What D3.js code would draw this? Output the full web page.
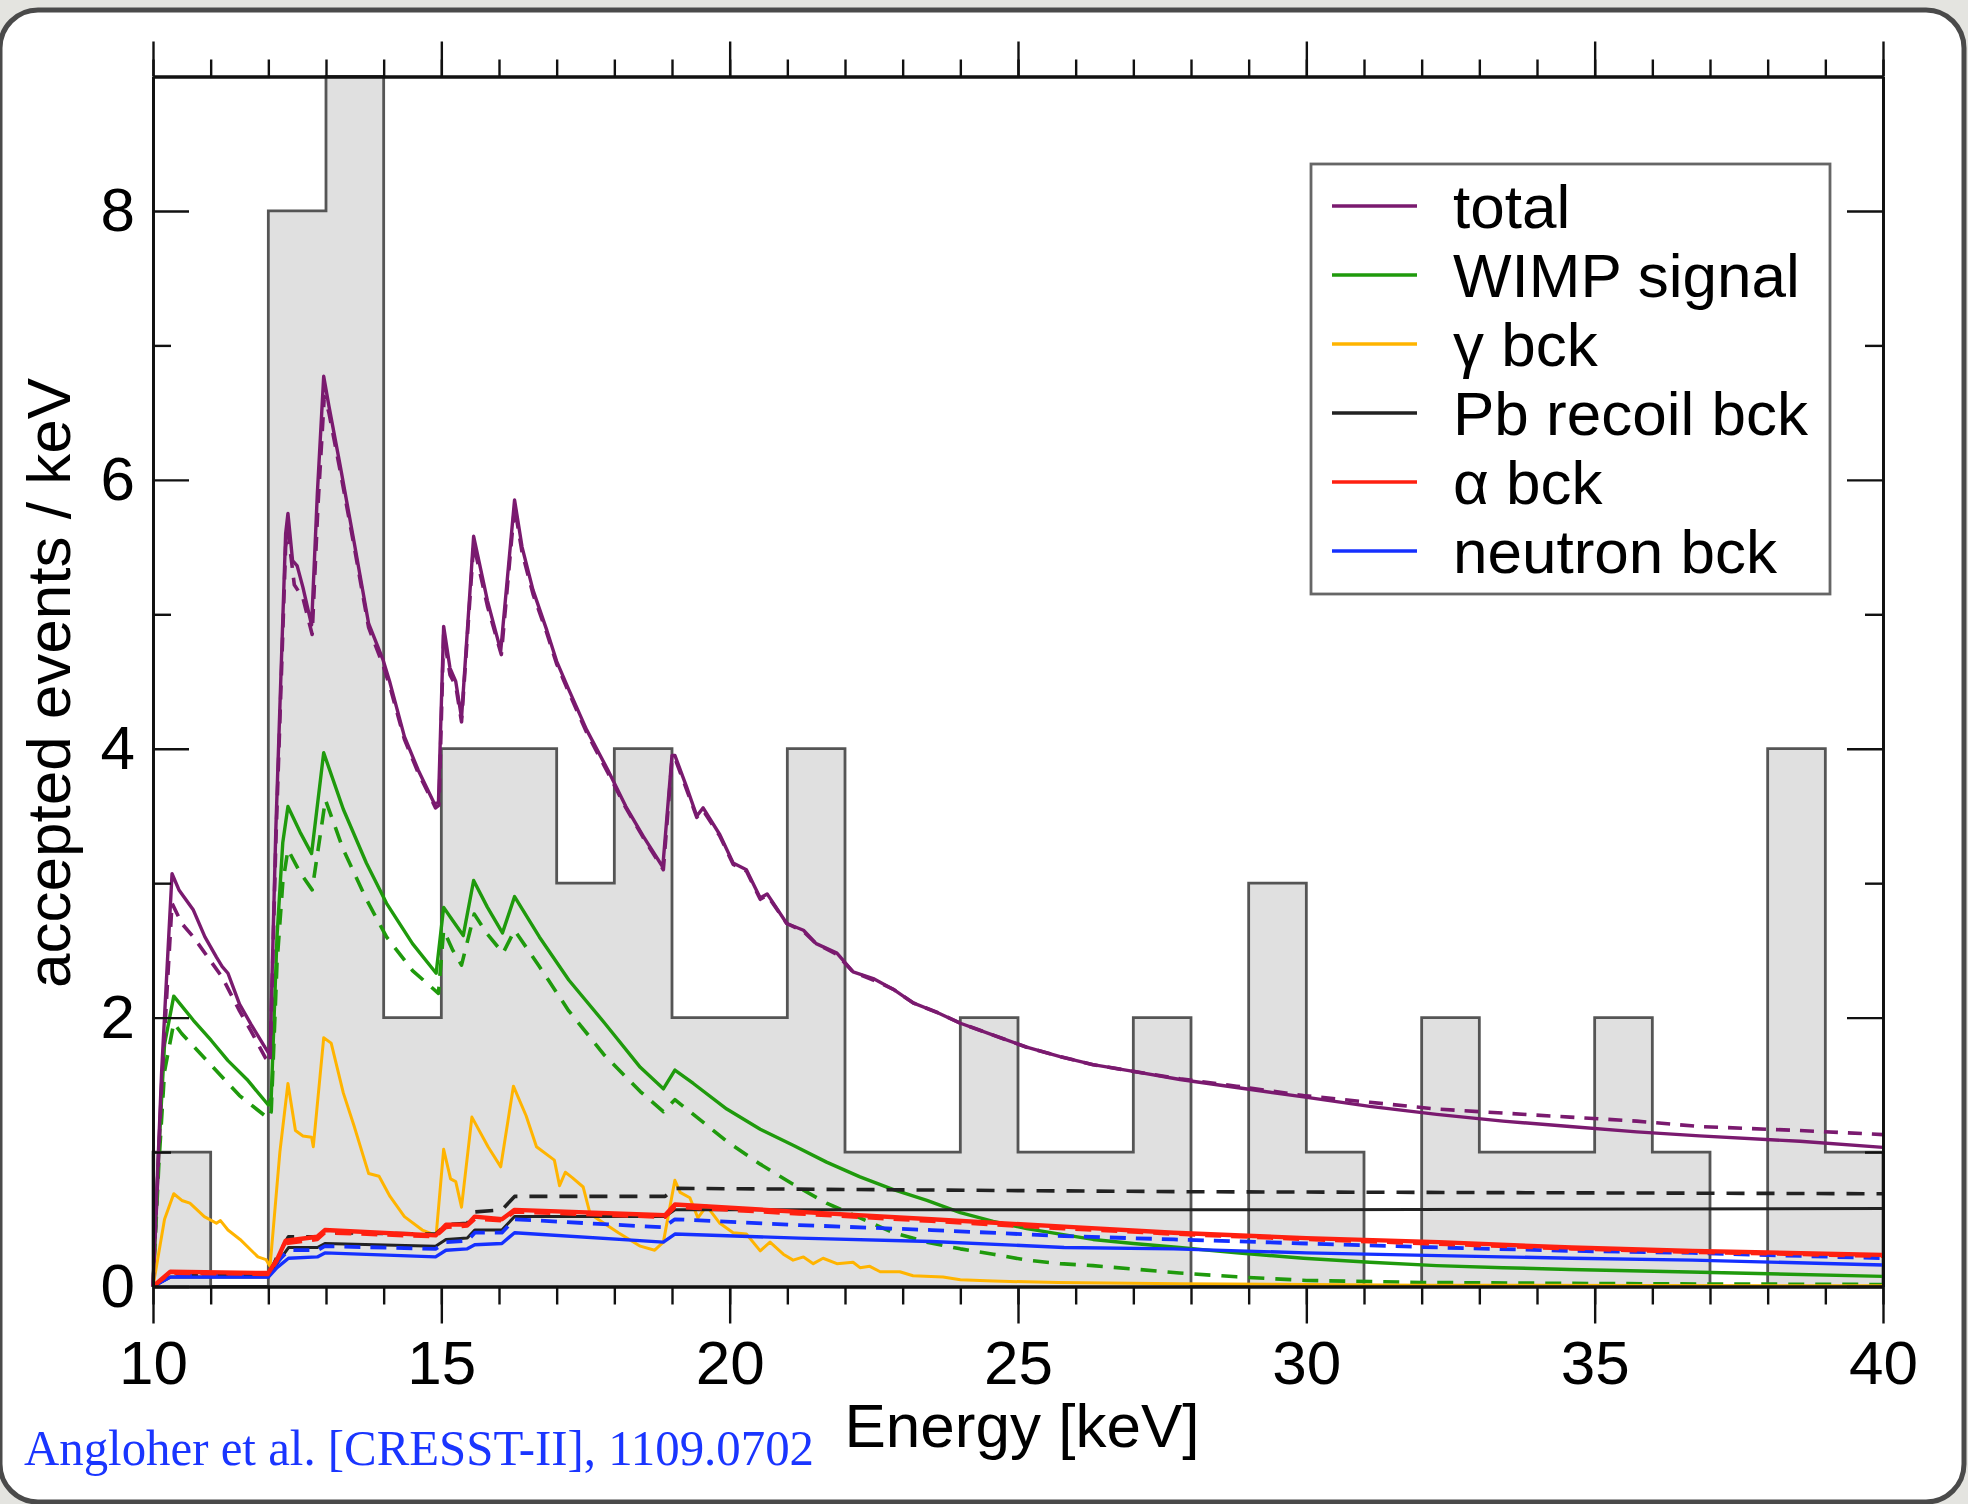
<!DOCTYPE html>
<html>
<head>
<meta charset="utf-8">
<script src="https://cdn.jsdelivr.net/npm/d3@7"></script>
<style>
  body { margin: 0; background: #e4e4e0; }
  svg { display: block; }
</style>
</head>
<body>
<div id="chart"></div>
<script>
// ---- data ----
// histogram: 1 keV bins, left edges and accepted event counts
var binLeft = [10,11,12,13,14,15,16,17,18,19,20,21,22,23,24,25,26,27,28,29,30,31,32,33,34,35,36,37,38,39];
var binCounts = [1,0,8,9,2,4,4,3,4,2,2,4,1,1,2,1,1,2,0,3,1,0,2,1,1,2,1,0,4,1];

// model curves, [energy keV, events/keV]
var totalSolid = [[10,0],[10.15,1.6],[10.33,3.07],[10.45,2.95],[10.7,2.8],[10.9,2.6],[11.1,2.45],[11.2,2.38],[11.3,2.33],[11.5,2.1],[11.7,1.95],[11.94,1.78],[12.03,1.72],
  [12.13,3.4],[12.3,5.6],[12.34,5.75],[12.42,5.4],[12.5,5.36],[12.6,5.2],[12.75,4.92],[12.85,5.9],[12.96,6.77],[13.05,6.55],[13.24,6.12],[13.49,5.53],[13.74,4.93],[13.99,4.66],
  [14.11,4.49],[14.36,4.09],[14.6,3.84],[14.88,3.59],[14.95,3.6],[15.04,4.91],[15.15,4.6],[15.25,4.5],[15.35,4.23],[15.56,5.58],[15.8,5.1],[16.03,4.73],[16.27,5.85],
  [16.4,5.5],[16.59,5.18],[16.83,4.88],[17.0,4.65],[17.21,4.44],[17.52,4.14],[17.89,3.84],[18.2,3.57],[18.5,3.35],[18.84,3.12],[19.0,3.95],[19.05,3.95],[19.25,3.72],
  [19.43,3.5],[19.54,3.56],[19.83,3.36],[20.06,3.15],[20.29,3.1],[20.53,2.89],[20.65,2.92],[20.99,2.7],[21.28,2.65],[21.5,2.55],[21.86,2.48],[22.14,2.34],[22.49,2.29],
  [22.84,2.21],[23.18,2.11],[23.59,2.04],[23.99,1.96],[24.57,1.87],[25.15,1.78],[25.73,1.71],[26.3,1.65],[27.0,1.6],[27.81,1.54],[28.79,1.48],[29.95,1.41],[31.1,1.34],
  [32.26,1.28],[33.41,1.23],[34.57,1.19],[35.73,1.15],[36.82,1.12],[38.56,1.08],[40,1.035]];
var totalDashed = [[10,0],[10.15,1.5],[10.33,2.85],[10.5,2.7],[10.7,2.6],[11.0,2.42],[11.2,2.3],[11.5,2.05],[11.7,1.9],[11.95,1.7],[12.03,1.66],
  [12.13,3.3],[12.3,5.5],[12.34,5.62],[12.45,5.22],[12.6,5.12],[12.76,4.85],[12.86,5.8],[12.97,6.62],[13.05,6.5],[13.24,6.08],[13.49,5.5],[13.74,4.9],[13.99,4.62],
  [14.11,4.46],[14.36,4.07],[14.6,3.82],[14.9,3.56],[14.96,3.58],[15.04,4.85],[15.15,4.55],[15.25,4.47],[15.35,4.2],[15.56,5.52],[15.8,5.06],[16.04,4.7],[16.27,5.8],
  [16.4,5.46],[16.59,5.15],[16.83,4.86],[17.0,4.63],[17.21,4.42],[17.52,4.12],[17.89,3.82],[18.2,3.56],[18.5,3.34],[18.85,3.1],[19.0,3.92],[19.05,3.93],[19.25,3.7],
  [19.43,3.49],[19.54,3.54],[19.83,3.35],[20.06,3.14],[20.29,3.09],[20.53,2.88],[20.65,2.91],[20.99,2.7],[21.28,2.64],[21.5,2.55],[21.86,2.47],[22.14,2.34],[22.49,2.28],
  [22.84,2.21],[23.18,2.11],[23.59,2.04],[23.99,1.96],[24.57,1.87],[25.15,1.78],[25.73,1.71],[26.3,1.65],[27.0,1.6],[27.81,1.545],[28.79,1.49],[29.95,1.42],[31.1,1.37],
  [32.26,1.32],[33.41,1.29],[34.57,1.26],[35.73,1.23],[36.82,1.19],[38.56,1.16],[40,1.13]];

var wimpSolid = [[10,0],[10.1,1.0],[10.2,1.8],[10.36,2.16],[10.7,1.98],[11.01,1.83],[11.3,1.68],[11.63,1.54],[12.0,1.35],[12.05,1.4],[12.15,2.6],[12.25,3.3],[12.34,3.57],
  [12.55,3.38],[12.75,3.22],[12.96,3.97],[13.3,3.55],[13.7,3.15],[14.05,2.85],[14.5,2.55],[14.91,2.33],[15.04,2.82],[15.2,2.72],[15.38,2.61],[15.56,3.02],[15.8,2.82],
  [16.06,2.63],[16.27,2.9],[16.7,2.6],[17.21,2.28],[17.83,1.96],[18.45,1.63],[18.85,1.47],[19.05,1.61],[19.37,1.51],[19.95,1.32],[20.53,1.17],[21.1,1.05],[21.68,0.925],
  [22.26,0.815],[22.84,0.72],[23.42,0.64],[24.0,0.55],[24.57,0.485],[25.15,0.43],[25.73,0.39],[26.3,0.35],[27.0,0.32],[27.8,0.29],[28.79,0.25],[29.95,0.21],[31.1,0.18],
  [32.26,0.155],[33.41,0.14],[34.57,0.127],[36.65,0.108],[40,0.075]];
var wimpDashed = [[10,0],[10.1,0.9],[10.2,1.6],[10.36,1.96],[10.5,1.88],[11.0,1.65],[11.5,1.42],[12.0,1.25],[12.05,1.3],[12.15,2.4],[12.25,3.0],[12.34,3.25],[12.55,3.08],
  [12.76,2.95],[12.99,3.62],[13.3,3.25],[13.7,2.88],[14.05,2.6],[14.5,2.35],[14.95,2.18],[15.04,2.65],[15.2,2.5],[15.35,2.39],[15.57,2.77],[15.8,2.62],[16.07,2.48],
  [16.27,2.65],[16.7,2.38],[17.21,2.05],[17.83,1.72],[18.45,1.45],[18.85,1.3],[19.05,1.39],[19.37,1.28],[19.95,1.08],[20.53,0.91],[21.1,0.76],[21.68,0.62],[22.26,0.51],
  [22.84,0.4],[23.42,0.33],[24.0,0.28],[24.57,0.24],[25.15,0.196],[25.73,0.17],[26.3,0.155],[27.0,0.13],[27.8,0.1],[28.79,0.072],[30,0.045],[32,0.03],[36,0.02],[40,0.015]];

var gammaBck = [[10,0],[10.2,0.5],[10.36,0.69],[10.5,0.64],[10.64,0.62],[10.89,0.52],[11.1,0.47],[11.17,0.49],[11.3,0.42],[11.51,0.35],[11.82,0.22],[11.96,0.2],[12.03,0.15],
  [12.2,1.0],[12.34,1.51],[12.47,1.16],[12.6,1.12],[12.75,1.11],[12.78,1.04],[12.96,1.85],[13.09,1.81],[13.3,1.44],[13.49,1.19],[13.74,0.84],[13.92,0.82],[14.11,0.67],
  [14.36,0.52],[14.67,0.42],[14.91,0.38],[15.04,1.02],[15.16,0.8],[15.25,0.78],[15.35,0.59],[15.53,1.26],[15.81,1.04],[16.03,0.89],[16.25,1.49],[16.47,1.27],[16.65,1.04],
  [16.96,0.94],[17.05,0.75],[17.15,0.85],[17.27,0.81],[17.46,0.74],[17.58,0.54],[18.07,0.4],[18.45,0.3],[18.7,0.27],[18.85,0.33],[19.05,0.79],[19.14,0.7],[19.31,0.66],
  [19.45,0.51],[19.6,0.6],[19.83,0.47],[20.06,0.4],[20.29,0.39],[20.53,0.265],[20.7,0.33],[20.93,0.24],[21.1,0.196],[21.28,0.22],[21.45,0.17],[21.62,0.21],[21.86,0.17],
  [22.14,0.18],[22.26,0.14],[22.43,0.15],[22.61,0.11],[22.95,0.11],[23.18,0.08],[23.7,0.07],[24.0,0.05],[24.57,0.04],[25.7,0.03],[27.8,0.02],[32,0.01],[40,0.005]];

var pbSolid = [[10,0],[10.3,0.07],[12.0,0.07],[12.15,0.17],[12.35,0.29],[12.85,0.29],[12.98,0.32],[14.9,0.3],[15.08,0.35],[15.45,0.36],[15.58,0.42],[16.05,0.42],
  [16.27,0.52],[18.88,0.52],[19.05,0.57],[30,0.57],[40,0.58]];
var pbDashed = [[10,0],[10.3,0.08],[12.0,0.08],[12.15,0.22],[12.35,0.37],[12.85,0.37],[12.98,0.4],[14.9,0.39],[15.08,0.46],[15.45,0.47],[15.58,0.555],[16.05,0.57],
  [16.27,0.67],[18.88,0.67],[19.05,0.73],[28,0.705],[40,0.69]];

var alphaSolid = [[10,0],[10.3,0.11],[12.0,0.1],[12.15,0.2],[12.3,0.34],[12.85,0.37],[12.98,0.42],[14.9,0.38],[15.08,0.46],[15.45,0.46],[15.58,0.52],[16.05,0.5],
  [16.27,0.57],[18.88,0.53],[19.05,0.61],[21.2,0.555],[23.5,0.5],[25.8,0.445],[27.7,0.4],[30,0.36],[32.3,0.33],[34.6,0.29],[36.7,0.265],[40,0.235]];
var alphaDashed = [[10,0],[10.3,0.1],[12.0,0.09],[12.15,0.19],[12.3,0.32],[12.85,0.35],[12.98,0.4],[14.9,0.37],[15.08,0.44],[15.45,0.45],[15.58,0.5],[16.05,0.49],
  [16.27,0.555],[18.88,0.515],[19.05,0.59],[21.2,0.54],[23.5,0.485],[25.8,0.43],[27.7,0.39],[30,0.35],[32.3,0.315],[34.6,0.28],[36.7,0.255],[40,0.225]];

var neutronSolid = [[10,0],[10.3,0.07],[12.0,0.07],[12.15,0.14],[12.35,0.21],[12.85,0.22],[12.98,0.25],[14.9,0.22],[15.08,0.27],[15.45,0.28],[15.58,0.31],[16.05,0.32],
  [16.27,0.4],[18.85,0.33],[19.05,0.39],[21.2,0.36],[23.5,0.335],[25.8,0.29],[27.7,0.28],[30,0.25],[32.3,0.23],[34.6,0.21],[36.7,0.196],[40,0.16]];
var neutronDashed = [[10,0],[10.3,0.08],[12.0,0.08],[12.15,0.18],[12.35,0.27],[12.85,0.27],[12.98,0.3],[14.9,0.28],[15.08,0.33],[15.45,0.34],[15.58,0.4],[16.05,0.4],
  [16.27,0.5],[18.85,0.44],[19.05,0.5],[21.2,0.457],[23.5,0.42],[25.8,0.375],[27.7,0.35],[30,0.32],[32.3,0.29],[34.6,0.265],[36.7,0.25],[40,0.21]];

// legend + ticks
var legendNames = ["total", "WIMP signal", "\u03b3 bck", "Pb recoil bck", "\u03b1 bck", "neutron bck"];
var legendColors = ["#7a1a6f", "#1f9a0c", "#ffb400", "#222222", "#ff2010", "#1530ff"];
var xMajorTicks = [10, 15, 20, 25, 30, 35, 40];
var xMinorTicks = [10,11,12,13,14,15,16,17,18,19,20,21,22,23,24,25,26,27,28,29,30,31,32,33,34,35,36,37,38,39,40];
var yMajorTicks = [0, 2, 4, 6, 8];
var yMinorTicks = [1, 3, 5, 7];

/////////////////////////////////////////////////////////
//////////////////// Set up the page ////////////////////
/////////////////////////////////////////////////////////
var W = 1968, H = 1504;
var plot = {left: 153, right: 1883, top: 76.5, bottom: 1286.5};
var fontSans = "'Liberation Sans', Arial, Helvetica, sans-serif";

var svg = d3.select("#chart").append("svg")
    .attr("width", W)
    .attr("height", H);

// grey page + rounded white card
svg.append("rect").attr("width", W).attr("height", H).attr("fill", "#e4e4e0");
svg.append("rect")
    .attr("x", 0).attr("y", 10)
    .attr("width", 1964).attr("height", 1492)
    .attr("rx", 38).attr("ry", 38)
    .attr("fill", "#ffffff")
    .attr("stroke", "#4a4a4a")
    .attr("stroke-width", 5);

var x = d3.scaleLinear().domain([10, 40]).range([plot.left, plot.right]);
var y = d3.scaleLinear().domain([0, 9]).range([plot.bottom, plot.top]);

/////////////////////////////////////////////////////////
////////////////////// Histogram ////////////////////////
/////////////////////////////////////////////////////////
var histPts = binLeft.map(function(d, i){ return [d, binCounts[i]]; });
histPts.push([40, binCounts[binCounts.length - 1]]);

svg.append("path")
    .datum(histPts)
    .attr("d", d3.area().curve(d3.curveStepAfter)
        .x(function(d){ return x(d[0]); })
        .y0(y(0))
        .y1(function(d){ return y(d[1]); }))
    .attr("fill", "#e0e0e0");

svg.append("path")
    .datum([[10, 0]].concat(histPts).concat([[40, 0]]))
    .attr("d", d3.line().curve(d3.curveStepAfter)
        .x(function(d){ return x(d[0]); })
        .y(function(d){ return y(d[1]); }))
    .attr("fill", "none")
    .attr("stroke", "#555")
    .attr("stroke-width", 2.8);

/////////////////////////////////////////////////////////
//////////////////////// Curves /////////////////////////
/////////////////////////////////////////////////////////
var line = d3.line()
    .x(function(d){ return x(d[0]); })
    .y(function(d){ return y(d[1]); });

var curves = [
  {data: wimpDashed,    color: legendColors[1], w: 3.6, dash: "16,11"},
  {data: wimpSolid,     color: legendColors[1], w: 3.4, dash: null},
  {data: gammaBck,      color: legendColors[2], w: 3,   dash: null},
  {data: pbDashed,      color: legendColors[3], w: 3.6, dash: "18,12"},
  {data: pbSolid,       color: legendColors[3], w: 3,   dash: null},
  {data: neutronDashed, color: legendColors[5], w: 3.8, dash: "16,10"},
  {data: neutronSolid,  color: legendColors[5], w: 3.4, dash: null},
  {data: alphaDashed,   color: legendColors[4], w: 3.6, dash: "16,10"},
  {data: alphaSolid,    color: legendColors[4], w: 4.4, dash: null},
  {data: totalDashed,   color: legendColors[0], w: 3.6, dash: "14,10"},
  {data: totalSolid,    color: legendColors[0], w: 3.4, dash: null}
];

svg.append("g").selectAll("path")
    .data(curves)
    .join("path")
    .attr("d", function(d){ return line(d.data); })
    .attr("fill", "none")
    .attr("stroke", function(d){ return d.color; })
    .attr("stroke-width", function(d){ return d.w; })
    .attr("stroke-linejoin", "round")
    .attr("stroke-dasharray", function(d){ return d.dash; });

/////////////////////////////////////////////////////////
///////////////////////// Axes //////////////////////////
/////////////////////////////////////////////////////////
function styleAxis(g) {
  g.selectAll("path.domain").attr("stroke", "#111").attr("stroke-width", 2.8);
  g.selectAll(".tick line").attr("stroke", "#111").attr("stroke-width", 2.4);
  g.selectAll("text").attr("fill", "#000").style("font-family", fontSans).style("font-size", "62px");
}

// bottom
svg.append("g").attr("transform", "translate(0," + plot.bottom + ")")
    .call(d3.axisBottom(x).tickValues(xMinorTicks).tickSize(18).tickSizeOuter(0).tickFormat(""))
    .call(styleAxis);
svg.append("g").attr("transform", "translate(0," + plot.bottom + ")")
    .call(d3.axisBottom(x).tickValues(xMajorTicks).tickSize(37).tickSizeOuter(0).tickPadding(16).tickFormat(d3.format("d")))
    .call(styleAxis);
// top
svg.append("g").attr("transform", "translate(0," + plot.top + ")")
    .call(d3.axisTop(x).tickValues(xMinorTicks).tickSize(17).tickSizeOuter(0).tickFormat(""))
    .call(styleAxis);
svg.append("g").attr("transform", "translate(0," + plot.top + ")")
    .call(d3.axisTop(x).tickValues(xMajorTicks).tickSize(35).tickSizeOuter(0).tickFormat(""))
    .call(styleAxis);
// left (ticks inward)
svg.append("g").attr("transform", "translate(" + plot.left + ",0)")
    .call(d3.axisLeft(y).tickValues(yMinorTicks).tickSize(-18).tickSizeOuter(0).tickFormat(""))
    .call(styleAxis);
svg.append("g").attr("transform", "translate(" + plot.left + ",0)")
    .call(d3.axisLeft(y).tickValues(yMajorTicks).tickSize(-36).tickSizeOuter(0).tickPadding(18).tickFormat(d3.format("d")))
    .call(styleAxis);
// right (ticks inward)
svg.append("g").attr("transform", "translate(" + plot.right + ",0)")
    .call(d3.axisRight(y).tickValues(yMinorTicks).tickSize(-18).tickSizeOuter(0).tickFormat(""))
    .call(styleAxis);
svg.append("g").attr("transform", "translate(" + plot.right + ",0)")
    .call(d3.axisRight(y).tickValues(yMajorTicks).tickSize(-36).tickSizeOuter(0).tickFormat(""))
    .call(styleAxis);

// axis titles
svg.append("text")
    .attr("x", (plot.left + plot.right) / 2 + 4)
    .attr("y", 1447)
    .attr("text-anchor", "middle")
    .style("font-family", fontSans)
    .style("font-size", "62px")
    .text("Energy [keV]");

svg.append("text")
    .attr("transform", "translate(70,683) rotate(-90)")
    .attr("text-anchor", "middle")
    .style("font-family", fontSans)
    .style("font-size", "62px")
    .text("accepted events / keV");

/////////////////////////////////////////////////////////
//////////////////////// Legend /////////////////////////
/////////////////////////////////////////////////////////
var legend = svg.append("g").attr("class", "legend");
legend.append("rect")
    .attr("x", 1311).attr("y", 164)
    .attr("width", 519).attr("height", 430)
    .attr("fill", "#fff")
    .attr("stroke", "#666")
    .attr("stroke-width", 2.8);

var item = legend.selectAll(".item")
    .data(legendNames)
    .join("g")
    .attr("class", "item")
    .attr("transform", function(d, i){ return "translate(0," + (228 + i * 69) + ")"; });

item.append("line")
    .attr("x1", 1332).attr("x2", 1417)
    .attr("y1", -22).attr("y2", -22)
    .attr("stroke", function(d, i){ return legendColors[i]; })
    .attr("stroke-width", 3.4);

item.append("text")
    .attr("x", 1453)
    .attr("y", 0)
    .style("font-family", fontSans)
    .style("font-size", "62px")
    .text(function(d){ return d; });

// citation
svg.append("text")
    .attr("x", 24)
    .attr("y", 1465)
    .attr("textLength", 790)
    .attr("lengthAdjust", "spacingAndGlyphs")
    .attr("fill", "#1a35ff")
    .style("font-family", "'Palatino Linotype', Palatino, 'Book Antiqua', 'Liberation Serif', serif")
    .style("font-size", "50px")
    .text("Angloher et al. [CRESST-II], 1109.0702");
</script>
</body>
</html>
